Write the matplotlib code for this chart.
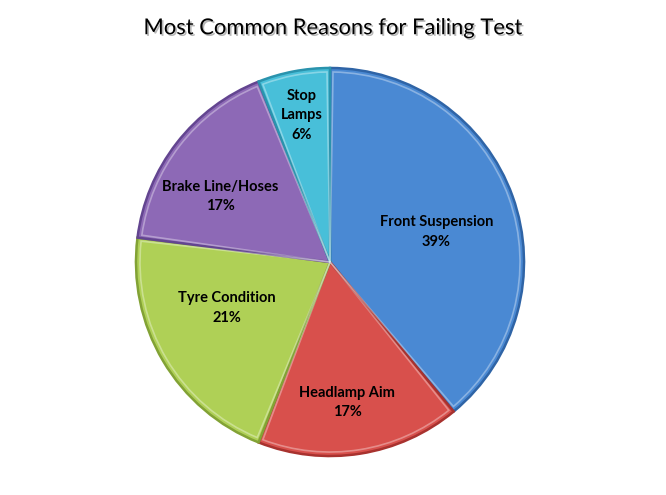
import matplotlib
matplotlib.use('Agg')
import matplotlib.pyplot as plt
import matplotlib.patheffects as pe
from matplotlib.patches import Wedge
import numpy as np

# Chart data
reasons = ['Front Suspension', 'Headlamp Aim', 'Tyre Condition', 'Brake Line/Hoses', 'Stop\nLamps']
shares = [39, 17, 21, 17, 6]
colors = ['#4A89D3', '#D8504C', '#AFD056', '#8D69B6', '#48BFD9']
edge_colors = ['#2F64A6', '#A8322F', '#82A235', '#634590', '#2A93AD']
# label placement inside each slice (fraction of radius, angle nudge in degrees)
label_dist = [0.57, 0.73, 0.58, 0.66, 0.77]
label_nudge = [-4, -2, -6.5, 7, 0]

plt.rcParams['font.family'] = ['Lato', 'DejaVu Sans']

fig = plt.figure(figsize=(6.66, 4.95), dpi=100)
ax = fig.add_axes([0, 0, 1, 1])

cx, cy, r = 330, 233, 194
explode = [0.025] * len(shares)

wedges, _ = ax.pie(shares, startangle=90, counterclock=False, explode=explode,
                   center=(cx, cy), radius=r, colors=colors, frame=True,
                   wedgeprops=dict(linewidth=1.8))
for w, ec in zip(wedges, edge_colors):
    w.set_edgecolor(ec)

# inner lighter rim to fake the bevel look
for w in wedges:
    inner = Wedge(w.center, w.r - 4, w.theta1 + 0.9, w.theta2 - 0.9,
                  facecolor='none', edgecolor='white', alpha=0.35, linewidth=1.2)
    ax.add_patch(inner)

ax.set_xlim(0, 666)
ax.set_ylim(0, 495)
ax.set_aspect('equal')
ax.axis('off')

total = sum(shares)
for w, name, v, d, nudge in zip(wedges, reasons, shares, label_dist, label_nudge):
    mid = np.deg2rad((w.theta1 + w.theta2) / 2 + nudge)
    x = cx + d * r * np.cos(mid)
    y = cy + d * r * np.sin(mid)
    ax.text(x, y, f'{name}\n{round(100 * v / total)}%', ha='center', va='center',
            fontsize=10.5, fontweight='bold', color='black', linespacing=1.5)

fig.text(0.5, 0.943, 'Most Common Reasons for Failing Test', ha='center', va='center',
         fontsize=15.8, color='black',
         path_effects=[pe.withSimplePatchShadow(offset=(1.2, -1.2), shadow_rgbFace='#888888', alpha=0.6)])

fig.savefig('out.png', dpi=100)
